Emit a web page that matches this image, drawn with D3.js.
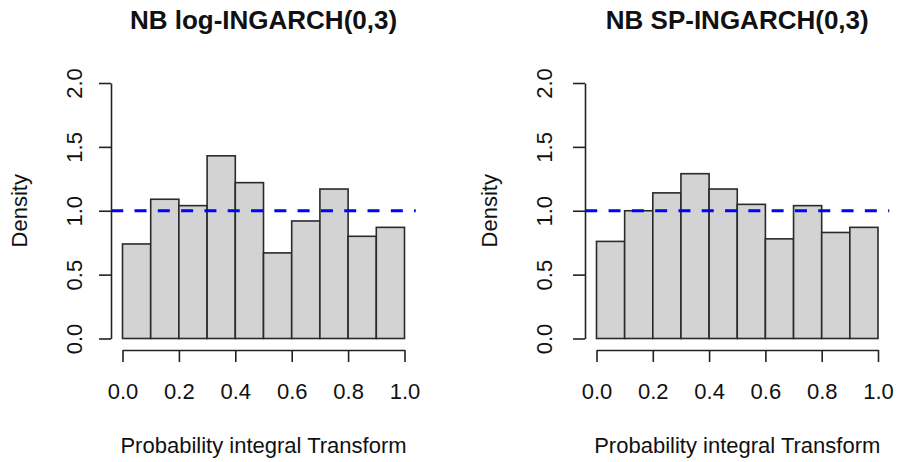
<!DOCTYPE html>
<html>
<head>
<meta charset="utf-8">
<script src="https://cdn.jsdelivr.net/npm/d3@7"></script>
<style>
  html, body { margin: 0; padding: 0; background: #fff; }
  svg { display: block; }
  text { font-family: "Liberation Sans", Arial, sans-serif; fill: #111; }
</style>
</head>
<body>
<svg id="chart" width="898" height="462"></svg>
<script>
// ---- data ----
const binEdges = [0.0, 0.1, 0.2, 0.3, 0.4, 0.5, 0.6, 0.7, 0.8, 0.9, 1.0];
const logIngarchDensity = [0.74, 1.09, 1.04, 1.43, 1.22, 0.67, 0.92, 1.17, 0.80, 0.87];
const spIngarchDensity  = [0.76, 1.00, 1.14, 1.29, 1.17, 1.05, 0.78, 1.04, 0.83, 0.87];
const xTicks = [0.0, 0.2, 0.4, 0.6, 0.8, 1.0];
const yTicks = [0.0, 0.5, 1.0, 1.5, 2.0];
const refLevel = 1.0;
const titles = ["NB log-INGARCH(0,3)", "NB SP-INGARCH(0,3)"];
const xLabel = "Probability integral Transform";
const yLabel = "Density";

// ---- layout ----
const panels = [
  { title: titles[0], values: logIngarchDensity, x0: 122.5, x1: 404.5, axisX: 111, tickLabX: 82, yLabX: 27 },
  { title: titles[1], values: spIngarchDensity,  x0: 596.5, x1: 878,   axisX: 585, tickLabX: 552, yLabX: 497 }
];
const yTop = 83, yBottom = 338.5;
const xAxisY = 350;

const svg = d3.select("#chart");
const fmt = d3.format(".1f");

panels.forEach(p => {
  const g = svg.append("g");
  const x = d3.scaleLinear().domain([0, 1]).range([p.x0, p.x1]);
  const y = d3.scaleLinear().domain([0, 2]).range([yBottom, yTop]);

  const bins = p.values.map((v, i) => ({ lo: binEdges[i], hi: binEdges[i + 1], v }));

  g.selectAll("rect.bar").data(bins).join("rect")
    .attr("class", "bar")
    .attr("x", d => x(d.lo))
    .attr("width", d => x(d.hi) - x(d.lo))
    .attr("y", d => y(d.v))
    .attr("height", d => y(0) - y(d.v))
    .attr("fill", "#d3d3d3")
    .attr("stroke", "#2a2a2a")
    .attr("stroke-width", 1.6);

  // reference line across plot region
  g.append("line")
    .attr("x1", x(-0.04)).attr("x2", x(1.04))
    .attr("y1", y(refLevel)).attr("y2", y(refLevel))
    .attr("stroke", "#0000ff")
    .attr("stroke-width", 3)
    .attr("stroke-dasharray", "12,11.3");

  // x axis
  const xa = g.append("g")
    .attr("transform", `translate(0,${xAxisY})`)
    .call(d3.axisBottom(x).tickValues(xTicks).tickFormat(fmt).tickSize(12).tickSizeOuter(0).tickPadding(20));
  xa.select(".domain").attr("stroke", "#222").attr("stroke-width", 1.6);
  xa.selectAll(".tick line").attr("stroke", "#222").attr("stroke-width", 1.6);
  xa.selectAll(".tick text")
    .attr("dy", null).attr("y", 49)
    .style("font-size", "22px").style("font-family", '"Liberation Sans", Arial, sans-serif').attr("fill", "#111");

  // y axis
  const ya = g.append("g")
    .attr("transform", `translate(${p.axisX},0)`)
    .call(d3.axisLeft(y).tickValues(yTicks).tickFormat(fmt).tickSize(12).tickSizeOuter(0));
  ya.select(".domain").attr("stroke", "#222").attr("stroke-width", 1.6);
  ya.selectAll(".tick line").attr("stroke", "#222").attr("stroke-width", 1.6);
  ya.selectAll(".tick text")
    .attr("x", null).attr("dy", null)
    .attr("text-anchor", "middle")
    .attr("transform", `translate(${p.tickLabX - p.axisX},0) rotate(-90)`)
    .style("font-size", "22px").style("font-family", '"Liberation Sans", Arial, sans-serif').attr("fill", "#111");

  // titles
  g.append("text")
    .attr("x", (p.x0 + p.x1) / 2).attr("y", 29)
    .attr("text-anchor", "middle")
    .style("font-size", "26px").style("font-weight", "bold")
    .text(p.title);

  g.append("text")
    .attr("x", (p.x0 + p.x1) / 2).attr("y", 453)
    .attr("text-anchor", "middle")
    .style("font-size", "22px")
    .text(xLabel);

  g.append("text")
    .attr("transform", `translate(${p.yLabX},${(yTop + yBottom) / 2}) rotate(-90)`)
    .attr("text-anchor", "middle")
    .style("font-size", "22px")
    .text(yLabel);
});
</script>
</body>
</html>
